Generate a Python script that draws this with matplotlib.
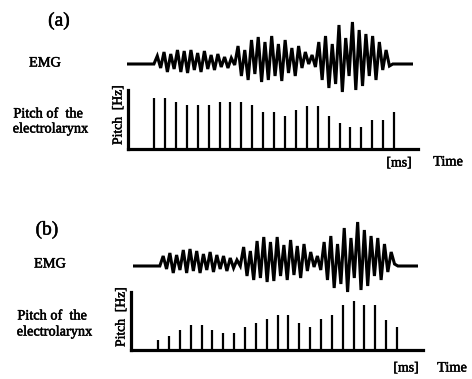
import numpy as np
import matplotlib
matplotlib.use('Agg')
import matplotlib.pyplot as plt
import matplotlib.patheffects as pe

W, H = 472, 379

# -----------------------------
# data
# -----------------------------
# EMG vertex amplitudes (flat lead-in, three bursts, flat tail)
emg_a = ([0] * 9 +
         [8, -4, 12, -8, 10, -5, 14, -8, 13, -9, 14, -6, 11, -8, 13, -5, 9, -6, 10, -3, 7, -4, 6, -1] +
         [18, -12, 14, -16, 24, -10, 27, -18, 22, -16, 28, -12, 20, -17, 24, -9, 16, -12, 18, -4, 12, 0, 9, -3] +
         [22, -16, 28, -24, 20, -20, 39, -28, 26, -12, 42, -26, 34, -22, 30, -12, 28, -16, 22, -6, 14, -2] +
         [0] * 7)
emg_b = ([0] * 9 +
         [10, -3, 13, -7, 11, -4, 16, -7, 17, -5, 15, -7, 12, -4, 14, -6, 11, -3, 10, -5, 8, -2, 6, 0] +
         [19, -10, 15, -14, 25, -12, 29, -16, 24, -15, 29, -10, 21, -14, 26, -9, 20, -12, 22, -5, 14, -1, 10, -4] +
         [24, -14, 30, -22, 22, -18, 38, -26, 28, -12, 44, -24, 36, -20, 30, -10, 28, -14, 22, -6, 14, 2] +
         [0] * 7)

# pitch pulses of the electrolarynx (relative height, % of axis)
pitch_a = [86, 86, 80, 75, 75, 75, 80, 80, 80, 75, 62, 62, 56, 66, 73, 73,
           56, 44, 38, 38, 50, 50, 62]
pitch_b = [17, 24, 35, 43, 43, 35, 30, 30, 40, 47, 54, 60, 60, 47, 40, 53,
           60, 77, 85, 77, 77, 51, 39]

plt.rcParams['font.family'] = ['Liberation Serif', 'DejaVu Serif']

fig = plt.figure(figsize=(W / 100, H / 100), dpi=100)
ink = [pe.withStroke(linewidth=0.35, foreground='black')]


def px_axes(left, top, right, bottom):
    ax = fig.add_axes([left / W, 1 - bottom / H, (right - left) / W, (bottom - top) / H])
    return ax


def ftext(x, y, s, size=10.3, **kw):
    fig.text(x / W, 1 - y / H, s, ha='center', va='center', fontsize=size,
             path_effects=ink, **kw)


def draw_emg(ax, values, ylo, yhi):
    ax.plot(np.arange(len(values)), values, color='black', lw=2.2,
            solid_joinstyle='miter')
    ax.set_xlim(0, len(values) - 1)
    ax.set_ylim(ylo, yhi)
    ax.axis('off')


def draw_pitch(ax, values, xlo, xhi):
    idx = np.arange(len(values))
    ax.vlines(idx, 0, values, color='black', lw=1.6)
    ax.set_xlim(xlo, xhi)
    ax.set_ylim(0, 100)
    for side in ('top', 'right'):
        ax.spines[side].set_visible(False)
    for side in ('left', 'bottom'):
        ax.spines[side].set_linewidth(2.3)
    ax.set_xticks([])
    ax.set_yticks([])
    ax.patch.set_alpha(0)


# panel (a)
draw_emg(px_axes(127, 15, 413, 100), emg_a, -36, 49)
draw_pitch(px_axes(128, 90, 418, 149), pitch_a, -2.4, 24.2)
ftext(59, 21, '(a)', size=14)
ftext(45, 63, 'EMG')
ftext(48, 114, 'Pitch of  the')
ftext(50, 129, 'electrolarynx')
ftext(118, 115, 'Pitch  [Hz]', size=9.8, rotation=90)
ftext(399, 163, '[ms]', size=10)
ftext(448, 162, 'Time')

# panel (b)
draw_emg(px_axes(133, 215, 418, 305), emg_b, -39, 51)
draw_pitch(px_axes(131, 292, 423, 350), pitch_b, -2.5, 24.4)
ftext(47, 230, '(b)', size=14)
ftext(50, 264, 'EMG')
ftext(52, 316, 'Pitch of  the')
ftext(54, 332, 'electrolarynx')
ftext(121, 317, 'Pitch  [Hz]', size=9.8, rotation=90)
ftext(406, 368, '[ms]', size=10)
ftext(452, 368, 'Time')

fig.savefig('out.png', dpi=100)
plt.close(fig)
